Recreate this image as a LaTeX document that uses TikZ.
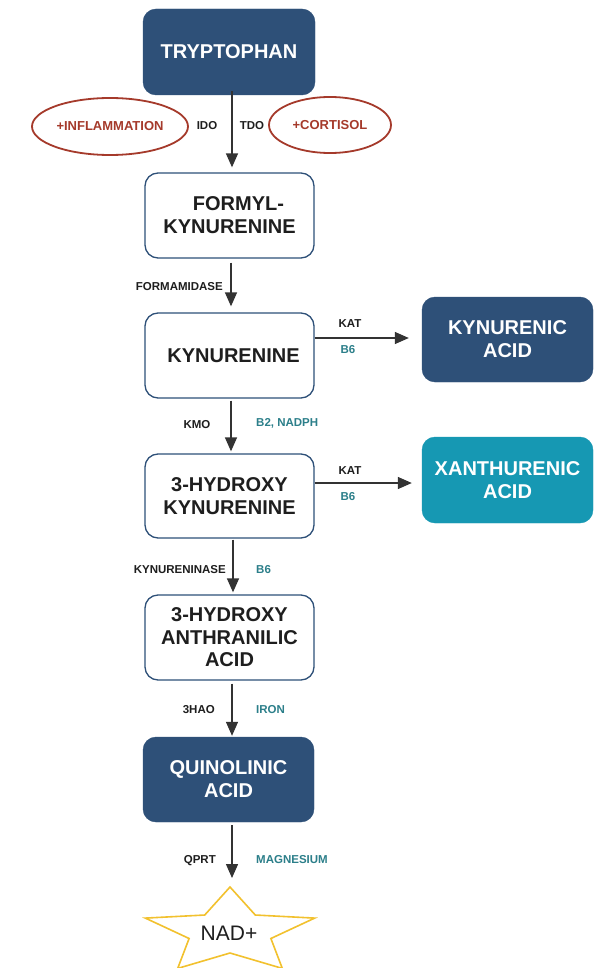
\documentclass[tikz,border=0pt]{standalone}
\usepackage{fontspec}
\setmainfont{Liberation Sans}
\usetikzlibrary{shapes.geometric,arrows.meta}

\definecolor{navy}{HTML}{2E5078}
\definecolor{tealbox}{HTML}{1698B3}
\definecolor{tealtxt}{HTML}{2C7F8A}
\definecolor{rust}{HTML}{A53A2B}
\definecolor{ink}{HTML}{1E1E1E}
\definecolor{arrowgray}{HTML}{333333}
\definecolor{gold}{HTML}{F2C12E}

\tikzset{
  basebox/.style={rounded corners=13pt, minimum width=169pt, minimum height=85pt,
    align=center, inner sep=2pt,
    font=\fontsize{20}{23}\selectfont\bfseries},
  darkbox/.style={basebox, fill=navy, draw=navy, text=white},
  tealfill/.style={basebox, fill=tealbox, draw=tealbox, text=white},
  lightbox/.style={basebox, fill=white, draw=navy, line width=1.3pt, text=ink},
  factor/.style={ellipse, draw=rust, line width=1.8pt, inner sep=0pt,
    text=rust, font=\fontsize{13}{15}\selectfont\bfseries},
  enz/.style={text=ink, inner sep=0pt, font=\fontsize{11.5}{13}\selectfont\bfseries},
  cof/.style={text=tealtxt, inner sep=0pt, font=\fontsize{11.5}{13}\selectfont\bfseries},
  arr/.style={draw=arrowgray, line width=1.4pt,
    -{Triangle[length=14pt,width=12pt]}},
  starline/.style={draw=gold, line width=1.6pt, line join=miter}
}

\begin{document}
\begin{tikzpicture}[x=1pt,y=-1pt]
  \useasboundingbox[fill=white] (0,0) rectangle (599,968);

  % main pathway boxes
  \node[darkbox, minimum width=172pt, minimum height=86pt] (tryp) at (229,52) {TRYPTOPHAN};
  \node[lightbox] (formyl) at (229.5,215.5) {\hspace*{18pt}FORMYL-\\KYNURENINE};
  \node[lightbox] (kyn) at (229.5,355.5) {\hspace*{8pt}KYNURENINE};
  \node[darkbox, minimum width=171pt] (kyna) at (507.5,339.5) {KYNURENIC\\ACID};
  \node[lightbox, minimum height=84pt] (hk) at (229.5,496) {3-HYDROXY\\KYNURENINE};
  \node[tealfill, minimum width=171pt, minimum height=86pt] (xa) at (507.5,480) {XANTHURENIC\\ACID};
  \node[lightbox, font=\fontsize{20}{22.5}\selectfont\bfseries] (hanth) at (229.5,637.5) {3-HYDROXY\\ANTHRANILIC\\ACID};
  \node[darkbox, minimum width=171pt] (quin) at (228.5,779.5) {QUINOLINIC\\ACID};

  % regulating factors
  \node[factor, minimum width=156pt, minimum height=57pt] (infl) at (110,126.5) {+INFLAMMATION};
  \node[factor, minimum width=122pt, minimum height=56pt] (cort) at (330,125) {+CORTISOL};

  % end product
  \node[inner sep=0pt, font=\fontsize{21}{24}\selectfont, text=ink] (nad) at (229,933) {NAD+};
  \coordinate (nadc) at (230,932);
  \coordinate (startop) at (232,887);
  \draw[starline] (nadc) +(90:45pt) -- +(126:43pt and 21pt) -- +(162:89pt and 45pt)
    -- +(198:43pt and 21pt) -- +(234:89pt and 45pt) -- +(270:21pt)
    -- +(306:89pt and 45pt) -- +(342:43pt and 21pt) -- +(18:89pt and 45pt)
    -- +(54:43pt and 21pt) -- cycle;

  % vertical lines of the arrows
  \coordinate (xa1) at (232,0);
  \coordinate (xa2) at (231,0);
  \coordinate (xa3) at (233,0);

  % conversion arrows
  \draw[arr] ([yshift=4pt]tryp.south -| xa1) -- ([yshift=5pt]formyl.north -| xa1);
  \draw[arr] ([yshift=-4pt]formyl.south -| xa2) -- ([yshift=6pt]kyn.north -| xa2);
  \draw[arr] ([yshift=-2pt]kyn.south -| xa2) -- ([yshift=2pt]hk.north -| xa2);
  \draw[arr] ([yshift=-1pt]hk.south -| xa3) -- ([yshift=2pt]hanth.north -| xa3);
  \draw[arr] ([yshift=-3pt]hanth.south -| xa1) -- ([yshift=1pt]quin.north -| xa1);
  \draw[arr] ([yshift=-3pt]quin.south -| xa1) -- ([yshift=9pt]startop);
  \draw[arr] (kyn.east |- 0,338) -- ([xshift=-13pt]kyna.west |- 0,338);
  \draw[arr] (hk.east |- 0,483) -- ([xshift=-10pt]xa.west |- 0,483);

  % enzymes and cofactors
  \node[enz] (ido) at (207,126) {IDO};
  \node[enz] (tdo) at (252,126) {TDO};
  \node[enz, anchor=east] (fmd) at (223,287) {FORMAMIDASE};
  \node[enz] (kat1) at (350,324) {KAT};
  \node[cof] (b6a) at (348,350) {B6};
  \node[enz] (kmo) at (197,425) {KMO};
  \node[cof, anchor=west] (b2) at (256,423) {B2, NADPH};
  \node[enz] (kat2) at (350,471) {KAT};
  \node[cof] (b6b) at (348,497) {B6};
  \node[enz, anchor=east] (kase) at (226,570) {KYNURENINASE};
  \node[cof, anchor=west] (b6c) at (256,570) {B6};
  \node[enz, anchor=east] (hao) at (215,710) {3HAO};
  \node[cof, anchor=west] (iron) at (256,710) {IRON};
  \node[enz, anchor=east] (qprt) at (216,861) {QPRT};
  \node[cof, anchor=west] (mg) at (256,860) {MAGNESIUM};
\end{tikzpicture}
\end{document}
